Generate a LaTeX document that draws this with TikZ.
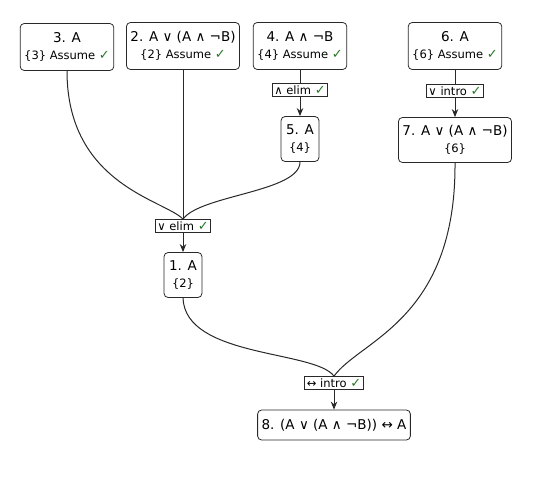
\documentclass[tikz,border=0pt]{standalone}
\usepackage{fontspec}
\setmainfont{DejaVu Sans}
\usetikzlibrary{arrows.meta}

\definecolor{okgreen}{RGB}{40,120,40}
\definecolor{edgegray}{RGB}{40,40,40}
\newcommand{\ok}{\textcolor{okgreen}{\fontsize{13}{14}\selectfont ✓}}
\newcommand{\bigline}{\fontsize{13.5}{16}\selectfont}
\newcommand{\smline}{\fontsize{11.5}{14}\selectfont}

\tikzset{
  stmt/.style={draw=edgegray, line width=0.8pt, rounded corners=4pt, align=center,
    inner xsep=4pt, inner ysep=3pt, minimum height=47pt, font=\bigline},
  rulebox/.style={draw=edgegray, line width=0.8pt, inner xsep=2pt, inner ysep=2pt,
    font=\fontsize{11.5}{13}\selectfont},
  link/.style={draw=edgegray, line width=1pt},
  infer/.style={link, -{Stealth[length=8pt, width=6.5pt]}}
}

\begin{document}
\begin{tikzpicture}[x=1pt, y=-1pt]

    % page size of the reference
    \useasboundingbox (0,0) rectangle (540,503);

    % assumptions on the top row
    \node[stmt] (n3) at (67,47) {3. A\\[1pt]{\smline \{3\} Assume \ok}};
    \node[stmt] (n2) at (183,46) {2. A ∨ (A ∧ ¬B)\\[1pt]{\smline \{2\} Assume \ok}};
    \node[stmt] (n4) at (300,46) {4. A ∧ ¬B\\[1pt]{\smline \{4\} Assume \ok}};
    \node[stmt] (n6) at (455,46) {6. A\\[1pt]{\smline \{6\} Assume \ok}};

    % rule labels
    \node[rulebox] (elimAnd) at (300,90) {∧ elim \ok};
    \node[rulebox] (introOr) at (455,91) {∨ intro \ok};
    \node[rulebox] (elimOr) at (183,226) {∨ elim \ok};
    \node[rulebox] (introIff) at (334,383) {↔ intro \ok};

    % derived lines
    \node[stmt, minimum height=45pt, inner xsep=5pt] (n5) at (300,139) {5. A\\[1pt]{\smline \{4\}}};
    \node[stmt, minimum height=45pt] (n7) at (455,140) {7. A ∨ (A ∧ ¬B)\\[1pt]{\smline \{6\}}};
    \node[stmt, minimum height=45pt, inner xsep=5pt] (n1) at (183,275) {1. A\\[1pt]{\smline \{2\}}};
    \node[stmt, minimum height=30pt] (n8) at (334,425) {8. (A ∨ (A ∧ ¬B)) ↔ A};

    % and elimination
    \draw[link] (n4.south) -- (elimAnd.north);
    \draw[infer] (elimAnd.south) -- (n5.north);

    % or introduction
    \draw[link] (n6.south) -- (introOr.north);
    \draw[infer] (introOr.south) -- (n7.north);

    % or elimination, three premises
    \draw[link] (n3.south) .. controls (67,185) and (165,200) .. (elimOr.north);
    \draw[link] (n2.south) -- (elimOr.north);
    \draw[link] (n5.south) .. controls (300,192) and (200,195) .. (elimOr.north);
    \draw[infer] (elimOr.south) -- (n1.north);

    % biconditional introduction
    \draw[link] (n1.south) .. controls (185,358) and (315,350) .. (introIff.north);
    \draw[link] (n7.south) .. controls (456,320) and (360,340) .. (introIff.north);
    \draw[infer] (introIff.south) -- (n8.north);

\end{tikzpicture}
\end{document}
